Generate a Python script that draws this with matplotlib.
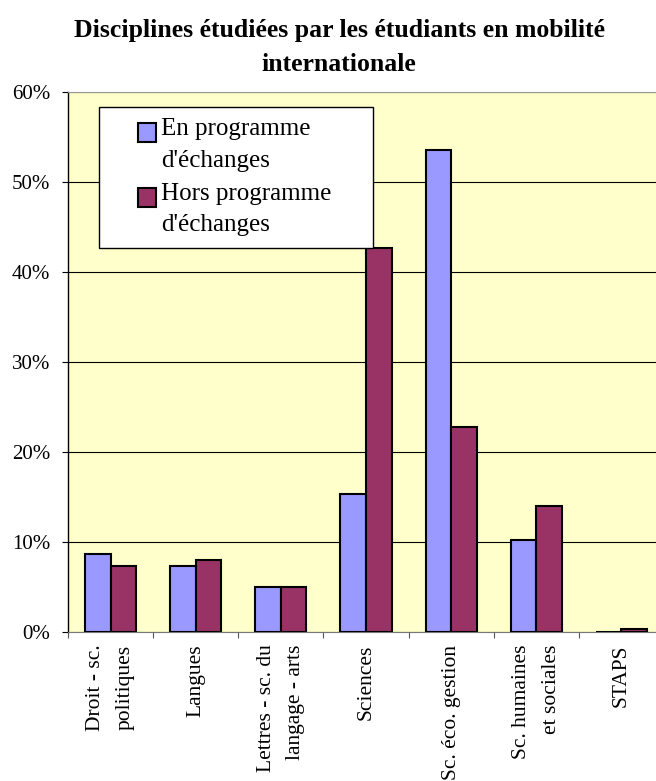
import numpy as np
import matplotlib.pyplot as plt
from matplotlib.patches import Rectangle
from matplotlib.container import BarContainer
from matplotlib.legend_handler import HandlerPatch, update_from_first_child
from matplotlib.ticker import FixedLocator, PercentFormatter

plt.rcParams['font.family'] = ['Liberation Serif', 'DejaVu Serif']

# Data
categories = ["Droit - sc.\npolitiques", "Langues", "Lettres - sc. du\nlangage - arts",
              "Sciences", "Sc. éco. gestion", "Sc. humaines\net sociales", "STAPS"]
en_programme = [8.7, 7.3, 5.0, 15.3, 53.6, 10.2, 0.0]
hors_programme = [7.3, 8.0, 5.0, 42.7, 22.8, 14.0, 0.3]
series_labels = ["En programme\nd'échanges", "Hors programme\nd'échanges"]
yticks = [0, 10, 20, 30, 40, 50, 60]

blue = '#9999FF'
maroon = '#993366'


def square_handle(legend, orig_handle, xdescent, ydescent, width, height, fontsize):
    sq = 0.75 * fontsize
    return Rectangle((-xdescent + width - sq, -ydescent + height - sq), sq, sq)


fig = plt.figure(figsize=(6.56, 7.81), dpi=100)
ax = fig.add_axes([68 / 656, 1 - 632 / 781, 596 / 656, 540 / 781])
ax.set_facecolor('#FFFFCC')

x = np.arange(len(categories))
w = 0.3
ax.bar(x - w / 2, en_programme, w, color=blue, edgecolor='black', linewidth=1.5,
       label=series_labels[0], zorder=3)
ax.bar(x + w / 2, hors_programme, w, color=maroon, edgecolor='black', linewidth=1.5,
       label=series_labels[1], zorder=3)

ax.set_xlim(-0.5, len(categories) - 0.5)
ax.set_ylim(0, 60)
ax.set_yticks(yticks)
ax.yaxis.set_major_formatter(PercentFormatter(decimals=0))
ax.grid(axis='y', color='black', linewidth=0.8, zorder=1)

ax.set_xticks(x)
ax.set_xticklabels(categories, rotation=90, ha='center', va='top',
                   multialignment='right', fontsize=15.5, linespacing=1.75)
ax.xaxis.set_minor_locator(FixedLocator(np.arange(len(categories) + 1) - 0.5))
ax.tick_params(axis='x', which='major', length=0, pad=9)
ax.tick_params(axis='x', which='minor', length=4.5, width=0.8, color='#555555')
ax.tick_params(axis='y', length=4, width=0.8, pad=9, labelsize=15)

ax.spines['left'].set_color('black')
ax.spines['left'].set_linewidth(1.0)
ax.spines['top'].set_color('#999999')
ax.spines['bottom'].set_color('#777777')
ax.spines['right'].set_visible(False)

handler = HandlerPatch(patch_func=square_handle, update_func=update_from_first_child)
leg = ax.legend(loc='upper left', bbox_to_anchor=(0.052, 0.715, 0.46, 0.257),
                mode='expand', borderaxespad=0,
                fontsize=18, fancybox=False, edgecolor='black', framealpha=1,
                handlelength=1.85, handleheight=2.4, handletextpad=0.2,
                borderpad=0.45, labelspacing=0.45,
                handler_map={BarContainer: handler})
leg.get_frame().set_linewidth(1.0)
for t in leg.get_texts():
    t.set_linespacing(1.55)
for h in leg.legend_handles:
    h.set_edgecolor('black')
    h.set_linewidth(1.5)

fig.suptitle("Disciplines étudiées par les étudiants en mobilité\ninternationale",
             x=0.517, y=1 - 19 / 781, va='top', fontsize=18.5, fontweight='bold',
             linespacing=1.6)

plt.savefig('out.png', dpi=100)
